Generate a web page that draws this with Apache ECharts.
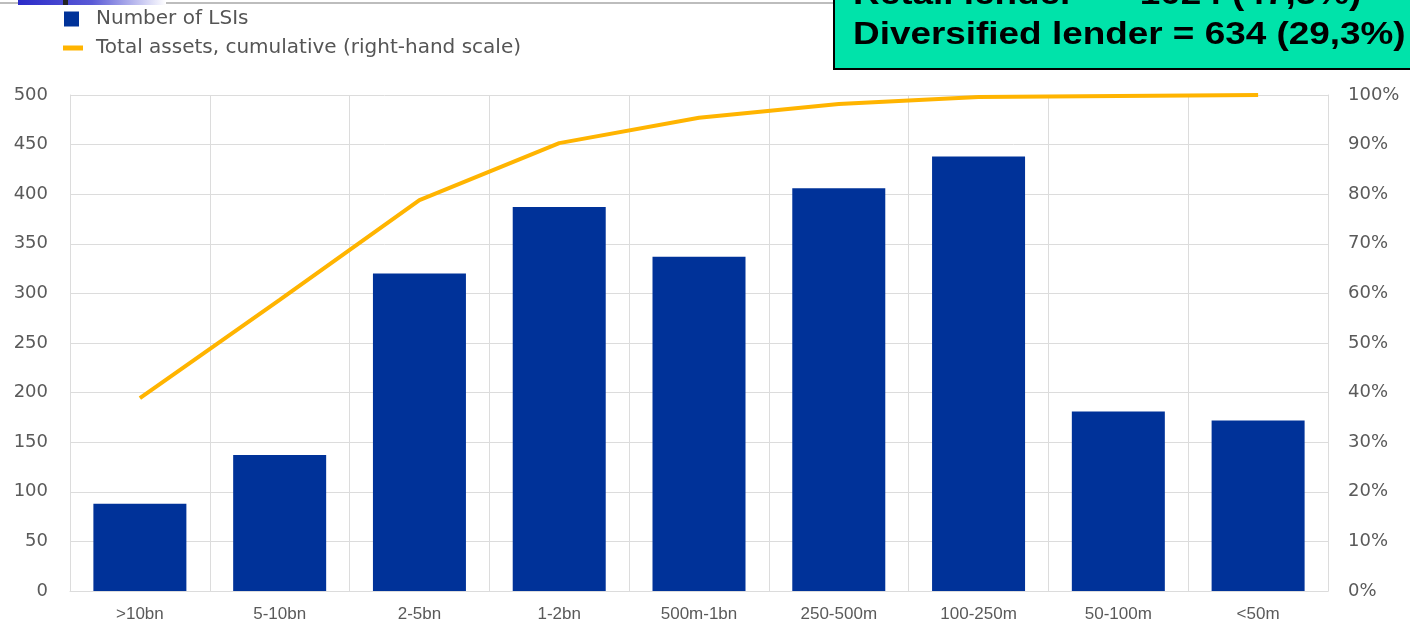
<!DOCTYPE html>
<html>
<head>
<meta charset="utf-8">
<script src="https://cdn.jsdelivr.net/npm/echarts@6/dist/echarts.min.js"></script>
<style>
html,body{margin:0;padding:0;background:#fff;}
#c{width:1410px;height:631px;}
</style>
</head>
<body>
<div id="c"></div>
<script>
var categories = ['>10bn','5-10bn','2-5bn','1-2bn','500m-1bn','250-500m','100-250m','50-100m','<50m'];
var lsiCounts = [88, 137, 320, 387, 337, 406, 438, 181, 172];
var cumulativeAssets = [38.9, 58.7, 78.8, 90.3, 95.4, 98.2, 99.6, 99.8, 100];
var leftTicks = {min: 0, max: 500, interval: 50};
var rightTicks = {min: 0, max: 100, interval: 10};
var seriesNames = ['Number of LSIs', 'Total assets, cumulative (right-hand scale)'];
var boxLines = ['Retail lender', '= 1024 (47,3%)', 'Diversified lender = 634 (29,3%)'];

var chart = echarts.init(document.getElementById('c'), null, {renderer: 'canvas'});
var numStyle = {color: '#5a5a5a', fontSize: 18, fontFamily: 'DejaVu Sans, sans-serif'};
var catStyle = {color: '#5a5a5a', fontSize: 17, fontFamily: 'Liberation Sans, Arial, sans-serif'};
var legendText = {color: '#555', fontSize: 20, fontFamily: 'DejaVu Sans, sans-serif'};
var boxFont = 'bold 31px "Liberation Sans", Arial, sans-serif';
var option = {
  animation: false,
  backgroundColor: '#ffffff',
  grid: {left: 70, right: 82, top: 95, bottom: 40, containLabel: false},
  legend: [
    {data: [seriesNames[0]], left: 64, top: 9, padding: 0, orient: 'vertical', icon: 'rect',
     itemWidth: 15, itemHeight: 15,
     textStyle: Object.assign({padding: [0,0,0,12]}, legendText)},
    {data: [seriesNames[1]], left: 63, top: 38, padding: 0, orient: 'vertical', icon: 'rect',
     itemWidth: 20, itemHeight: 5,
     textStyle: Object.assign({padding: [0,0,0,8]}, legendText)}
  ],
  xAxis: {
    type: 'category', data: categories, boundaryGap: true,
    axisLine: {show: true, lineStyle: {color: '#dcdcdc', width: 1}},
    axisTick: {show: false},
    splitLine: {show: true, lineStyle: {color: '#dcdcdc', width: 1}},
    axisLabel: Object.assign({margin: 15, interval: 0}, catStyle)
  },
  yAxis: [
    {type: 'value', min: leftTicks.min, max: leftTicks.max, interval: leftTicks.interval,
     axisLine: {show: true, lineStyle: {color: '#dcdcdc'}}, axisTick: {show: false},
     splitLine: {show: true, lineStyle: {color: '#dcdcdc', width: 1}},
     axisLabel: Object.assign({margin: 22}, numStyle)},
    {type: 'value', min: rightTicks.min, max: rightTicks.max, interval: rightTicks.interval,
     position: 'right',
     axisLine: {show: true, lineStyle: {color: '#dcdcdc'}}, axisTick: {show: false},
     splitLine: {show: false},
     axisLabel: Object.assign({margin: 20, formatter: '{value}%'}, numStyle)}
  ],
  series: [
    {name: seriesNames[0], type: 'bar', data: lsiCounts, barWidth: 93,
     itemStyle: {color: '#003299'}, yAxisIndex: 0},
    {name: seriesNames[1], type: 'line', data: cumulativeAssets, yAxisIndex: 1,
     showSymbol: false, symbol: 'none',
     lineStyle: {color: '#FFB400', width: 4}, itemStyle: {color: '#FFB400'}}
  ],
  graphic: [
    {type: 'line', shape: {x1: 0, y1: 3, x2: 834, y2: 3}, style: {stroke: '#bdbdbd', lineWidth: 2}, z: 10},
    {type: 'rect', shape: {x: 18, y: 0, width: 148, height: 5},
     style: {fill: new echarts.graphic.LinearGradient(0, 0, 1, 0, [
       {offset: 0, color: '#2b2bc8'}, {offset: 0.5, color: '#5a5ad6'}, {offset: 1, color: '#ffffff'}])}, z: 11},
    {type: 'rect', shape: {x: 63, y: 0, width: 5, height: 5}, style: {fill: '#222'}, z: 12},
    {type: 'rect', shape: {x: 834, y: -10, width: 600, height: 79},
     style: {fill: '#00E3AA', stroke: '#000', lineWidth: 2}, z: 20},
    {type: 'text', x: 853, y: -5, scaleX: 1.19, z: 21,
     style: {text: boxLines[0], fill: '#000', font: boxFont, verticalAlign: 'middle', align: 'left'}},
    {type: 'text', x: 1108, y: -5, scaleX: 1.19, z: 21,
     style: {text: boxLines[1], fill: '#000', font: boxFont, verticalAlign: 'middle', align: 'left'}},
    {type: 'text', x: 853, y: 35, scaleX: 1.19, z: 21,
     style: {text: boxLines[2], fill: '#000', font: boxFont, verticalAlign: 'middle', align: 'left'}}
  ]
};
chart.setOption(option);
</script>
</body>
</html>
